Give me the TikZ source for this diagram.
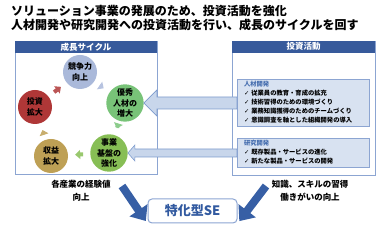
\documentclass[tikz,border=0pt]{standalone}
\usepackage{fontspec}
\setmainfont{Noto Sans CJK JP}
\newfontfamily\checkfont{DejaVu Sans}
\usetikzlibrary{calc,arrows.meta}
\definecolor{headblue}{RGB}{55,90,155}
\definecolor{lineblue}{RGB}{140,165,210}
\definecolor{subfill}{RGB}{216,226,241}
\definecolor{headtext}{RGB}{70,110,175}
\definecolor{arrowfill}{RGB}{200,214,235}
\definecolor{arrowline}{RGB}{125,155,205}
\definecolor{darkarrow}{RGB}{55,95,165}
\definecolor{setext}{RGB}{50,90,160}
\definecolor{compcol}{RGB}{170,185,218}
\definecolor{talentcol}{RGB}{120,195,120}
\definecolor{basecol}{RGB}{135,190,85}
\definecolor{profitcol}{RGB}{190,160,85}
\definecolor{investcol}{RGB}{175,55,55}
\newcommand\chk{{\checkfont ✓}\ }
\tikzset{
  title/.style={anchor=west, inner sep=0pt, font=\fontsize{12}{14}\selectfont\bfseries},
  panel/.style={draw=lineblue, line width=0.8pt, minimum width=142pt, minimum height=133pt},
  panelhead/.style={fill=headblue, text=white, anchor=north, inner sep=0pt,
    minimum height=12pt, font=\fontsize{8.5}{10}\selectfont\bfseries},
  cyclenode/.style={circle, fill=#1, align=center, inner sep=0pt, minimum size=34pt,
    font=\fontsize{8}{10.5}\selectfont\bfseries},
  cyclearrow/.style={draw=#1, line width=4pt, -{Triangle[length=5pt,width=9pt]},
    shorten <=7pt, shorten >=7pt},
  subbox/.style={draw=lineblue, fill=subfill, text width=118pt, inner xsep=7pt, inner ysep=2.5pt,
    align=left, font=\fontsize{6.3}{9}\selectfont\bfseries},
  bigarrow/.style={draw=arrowline, fill=arrowfill, line width=0.6pt, line join=miter},
  outarrow/.style={draw=darkarrow, line width=8pt, -{Triangle[length=13pt,width=21pt]}, shorten >=3pt},
  outlabel/.style={align=center, font=\fontsize{8.5}{13}\selectfont\bfseries},
  sebox/.style={draw=lineblue, line width=1pt, rounded corners=4pt, minimum width=89pt,
    minimum height=24pt, text=setext, font=\fontsize{13}{15}\selectfont\bfseries},
}

\begin{document}
\begin{tikzpicture}[x=1pt, y=-1pt]
  \useasboundingbox (0,0) rectangle (389,229);
  % title
  \node[title] (title1) at (11,11) {ソリューション事業の発展のため、投資活動を強化};
  \node[title] (title2) at (11,25) {人材開発や研究開発への投資活動を行い、成長のサイクルを回す};

  % panels
  \node[panel] (cyclebox) at (86,107.5) {};
  \node[panelhead, minimum width=142.8pt] (cyclehead) at (cyclebox.north) {成長サイクル};
  \node[panel, minimum width=143pt, minimum height=134pt] (invbox) at (303.5,108) {};
  \node[panelhead, minimum width=143.8pt] (invhead) at (invbox.north) {投資活動};

  % cycle
  \node[cyclenode=compcol] (comp) at (80,72) {競争力\\向上};
  \node[cyclenode=talentcol] (talent) at (125,103) {優秀\\人材の\\増大};
  \node[cyclenode=basecol] (base) at (109,153) {事業\\基盤の\\強化};
  \node[cyclenode=profitcol] (profit) at (51,156) {収益\\拡大};
  \node[cyclenode=investcol] (invest) at (35,107) {投資\\拡大};
  \foreach \a/\b/\c in {invest/comp/investcol, comp/talent/compcol, talent/base/talentcol,
      base/profit/basecol, profit/invest/profitcol}
    \draw[cyclearrow=\c!85!white] (\a) -- (\b);

  % investment
  \node[subbox] (hr) at (303,102.5) {\textcolor{headtext}{人材開発}\\
    \chk 従業員の教育・育成の拡充\\
    \chk 技術習得のための環境づくり\\
    \chk 業務知識獲得のためのチームづくり\\
    \chk 意識調査を軸とした組織開発の導入};
  \node[subbox] (rd) at (303,152.5) {\textcolor{headtext}{研究開発}\\
    \chk 既存製品・サービスの進化\\
    \chk 新たな製品・サービスの開発};
  \foreach \c/\s/\hl/\hh/\bh in {talent/hr/13/13/6, base/rd/7/8/4}
    \draw[bigarrow] (\c.east) -- ++(\hl,-\hh) -- ++(0,\hh-\bh)
      -- ($(\c.east -| \s.west)+(0,-\bh)$) -- ++(0,2*\bh)
      -- ($(\c.east)+(\hl,\bh)$) -- ++(0,\hh-\bh) -- cycle;

  % result
  \node[outlabel] (expl) at (81,190.5) {各産業の経験値\\向上};
  \node[outlabel] (skill) at (310,190.5) {知識、スキルの習得\\働きがいの向上};
  \node[sebox] (se) at (192.5,211) {特化型SE};
  \coordinate (ltail) at (122,186);
  \coordinate (rtail) at (266,186);
  \draw[outarrow] (ltail) -- (se.south west);
  \draw[outarrow] (rtail) -- (se.south east);
\end{tikzpicture}
\end{document}
